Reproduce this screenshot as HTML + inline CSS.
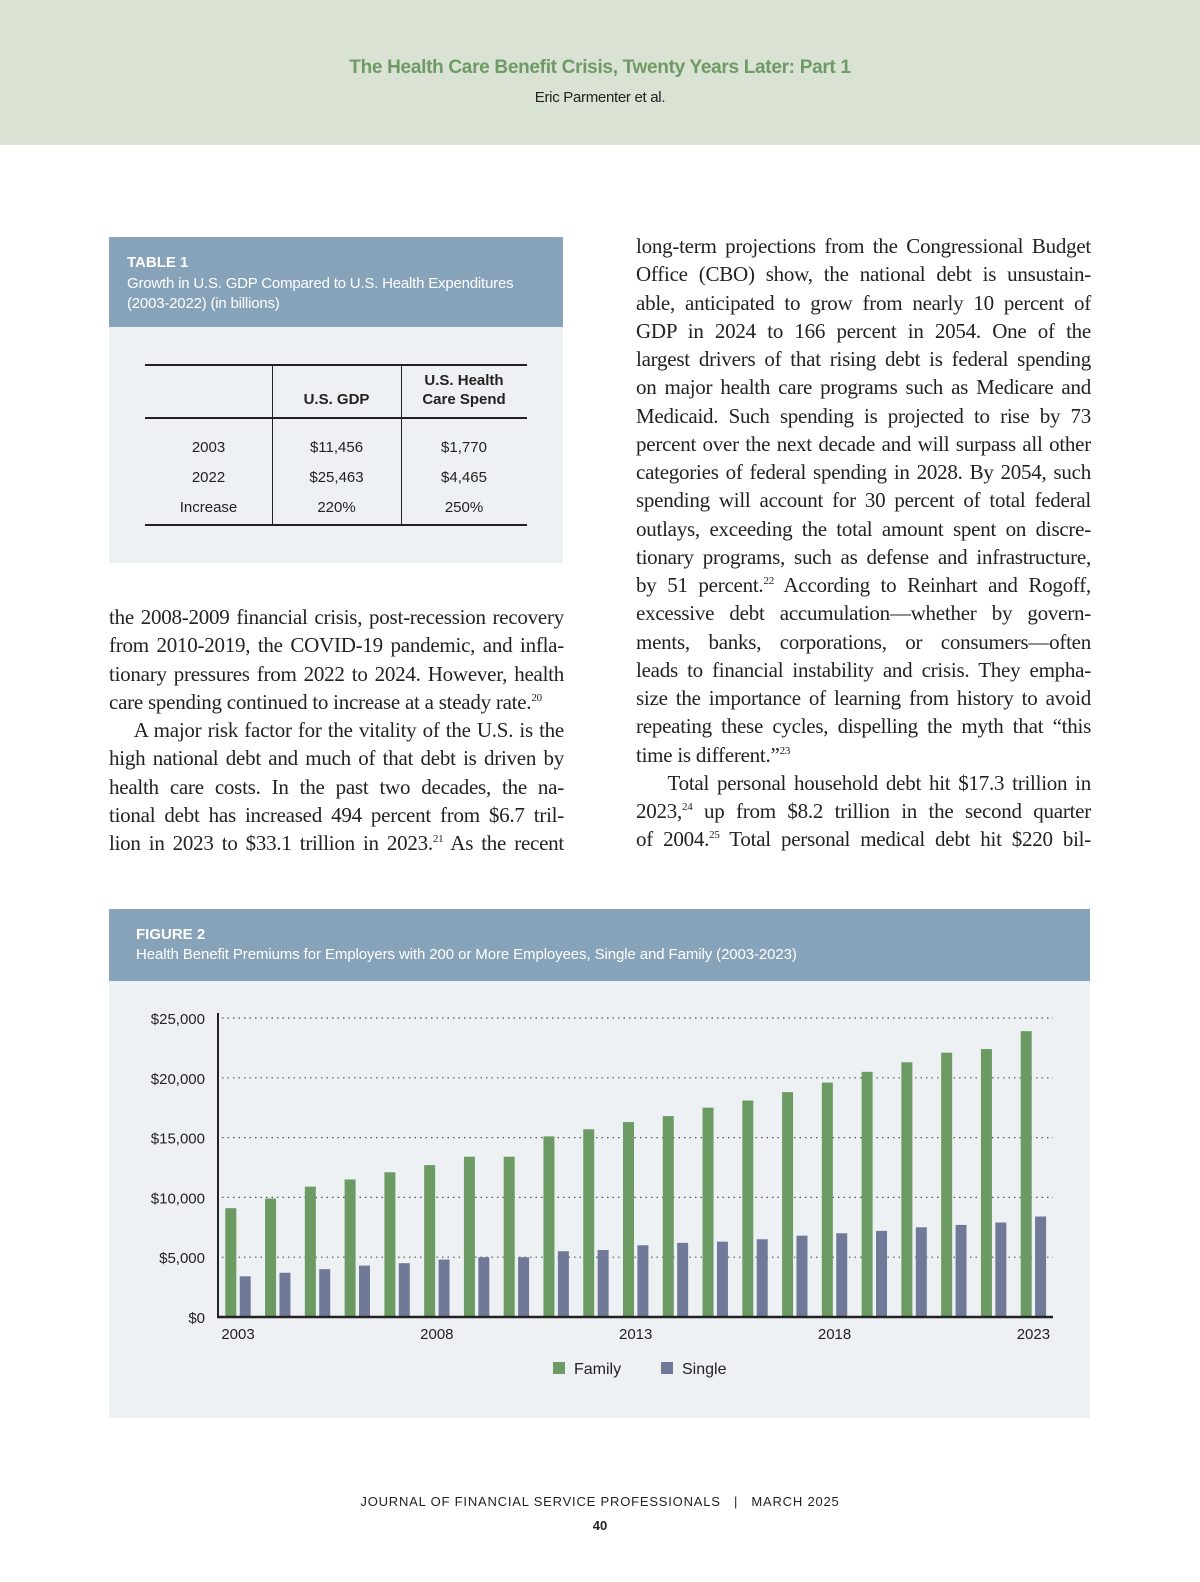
<!DOCTYPE html>
<html><head><meta charset="utf-8">
<style>
*{margin:0;padding:0;box-sizing:border-box}
body{width:1200px;height:1582px;position:relative;background:#fff;font-family:"Liberation Sans",sans-serif;overflow:hidden}
.hdr{position:absolute;left:0;top:0;width:1200px;height:145px;background:#dae2d3}
.title{position:absolute;top:57px;width:100%;text-align:center;color:#6e9a66;font-weight:bold;font-size:19px;letter-spacing:-0.3px}
.auth{position:absolute;top:89px;width:100%;text-align:center;color:#222;font-size:15px;letter-spacing:-0.3px}
.col{position:absolute;font-family:"Liberation Serif",serif;font-size:21px;color:#222;width:455px}
.col div{height:28.26px;line-height:28.26px;white-space:nowrap;text-align:justify;text-align-last:justify;letter-spacing:-0.25px}
.col div.e{text-align-last:left}
sup{font-size:11px;vertical-align:8px;line-height:0}
.box{position:absolute;background:#eef1f4}
.bh{position:absolute;left:0;top:0;width:100%;background:#86a3b9;color:#fff}
.t{position:absolute;font-size:15px;color:#222;text-align:center}
</style></head><body>
<div class="hdr">
<div class="title">The Health Care Benefit Crisis, Twenty Years Later: Part 1</div>
<div class="auth">Eric Parmenter et al.</div>
</div>

<div class="box" style="left:109px;top:237px;width:454px;height:326px">
<div class="bh" style="height:90px">
<div style="position:absolute;left:18px;top:17px;font-weight:bold;font-size:15px">TABLE 1</div>
<div style="position:absolute;left:18px;top:37px;font-size:15px;line-height:20px;letter-spacing:-0.2px">Growth in U.S. GDP Compared to U.S. Health Expenditures<br>(2003-2022) (in billions)</div>
</div>
<div style="position:absolute;left:36px;top:127px;width:382px;border-top:2px solid #222"></div>
<div style="position:absolute;left:36px;top:180px;width:382px;border-top:2px solid #222"></div>
<div style="position:absolute;left:36px;top:287px;width:382px;border-top:2px solid #222"></div>
<div style="position:absolute;left:163px;top:127px;height:162px;border-left:1.5px solid #222"></div>
<div style="position:absolute;left:292px;top:127px;height:162px;border-left:1.5px solid #222"></div>
<div class="t" style="left:163px;width:129px;top:154px;font-weight:bold">U.S. GDP</div>
<div class="t" style="left:292px;width:126px;top:134px;font-weight:bold;line-height:19px">U.S. Health<br>Care Spend</div>
<div class="t" style="left:36px;width:127px;top:196px;line-height:30px">2003<br>2022<br>Increase</div>
<div class="t" style="left:163px;width:129px;top:196px;line-height:30px">$11,456<br>$25,463<br>220%</div>
<div class="t" style="left:292px;width:126px;top:196px;line-height:30px">$1,770<br>$4,465<br>250%</div>
</div>

<div class="col" style="left:109px;top:603px">
<div>the 2008-2009 financial crisis, post-recession recovery</div>
<div>from 2010-2019, the COVID-19 pandemic, and infla-</div>
<div>tionary pressures from 2022 to 2024. However, health</div>
<div class="e">care spending continued to increase at a steady rate.<sup>20</sup></div>
<div>&nbsp;&nbsp;&nbsp;&nbsp;A major risk factor for the vitality of the U.S. is the</div>
<div>high national debt and much of that debt is driven by</div>
<div>health care costs. In the past two decades, the na-</div>
<div>tional debt has increased 494 percent from $6.7 tril-</div>
<div>lion in 2023 to $33.1 trillion in 2023.<sup>21</sup> As the recent</div>
</div>

<div class="col" style="left:636px;top:232px">
<div>long-term projections from the Congressional Budget</div>
<div>Office (CBO) show, the national debt is unsustain-</div>
<div>able, anticipated to grow from nearly 10 percent of</div>
<div>GDP in 2024 to 166 percent in 2054. One of the</div>
<div>largest drivers of that rising debt is federal spending</div>
<div>on major health care programs such as Medicare and</div>
<div>Medicaid. Such spending is projected to rise by 73</div>
<div>percent over the next decade and will surpass all other</div>
<div>categories of federal spending in 2028. By 2054, such</div>
<div>spending will account for 30 percent of total federal</div>
<div>outlays, exceeding the total amount spent on discre-</div>
<div>tionary programs, such as defense and infrastructure,</div>
<div>by 51 percent.<sup>22</sup> According to Reinhart and Rogoff,</div>
<div>excessive debt accumulation—whether by govern-</div>
<div>ments, banks, corporations, or consumers—often</div>
<div>leads to financial instability and crisis. They empha-</div>
<div>size the importance of learning from history to avoid</div>
<div>repeating these cycles, dispelling the myth that “this</div>
<div class="e">time is different.”<sup>23</sup></div>
<div>&nbsp;&nbsp;&nbsp;&nbsp;Total personal household debt hit $17.3 trillion in</div>
<div>2023,<sup>24</sup> up from $8.2 trillion in the second quarter</div>
<div>of 2004.<sup>25</sup> Total personal medical debt hit $220 bil-</div>
</div>

<div class="box" style="left:109px;top:909px;width:981px;height:509px">
<div class="bh" style="height:72px">
<div style="position:absolute;left:27px;top:17px;font-weight:bold;font-size:15px">FIGURE 2</div>
<div style="position:absolute;left:27px;top:37px;font-size:15px;letter-spacing:-0.1px">Health Benefit Premiums for Employers with 200 or More Employees, Single and Family (2003-2023)</div>
</div>
</div>

<svg id="chart" style="position:absolute;left:0;top:0" width="1200" height="1582"></svg>

<div style="position:absolute;top:1494px;width:100%;text-align:center;font-size:13px;letter-spacing:0.8px;color:#222">JOURNAL OF FINANCIAL SERVICE PROFESSIONALS &nbsp;&nbsp;|&nbsp;&nbsp; MARCH 2025</div>
<div style="position:absolute;top:1518px;width:100%;text-align:center;font-size:13px;font-weight:bold;color:#222">40</div>

<script>
const years = [2003,2004,2005,2006,2007,2008,2009,2010,2011,2012,2013,2014,2015,2016,2017,2018,2019,2020,2021,2022,2023];
const family = [9100,9900,10900,11500,12100,12700,13400,13400,15100,15700,16300,16800,17500,18100,18800,19600,20500,21300,22100,22400,23900];
const single = [3400,3700,4000,4300,4500,4800,5000,5000,5500,5600,6000,6200,6300,6500,6800,7000,7200,7500,7700,7900,8400];
const yTicks = [0,5000,10000,15000,20000,25000];
const yTickLabels = ["$0","$5,000","$10,000","$15,000","$20,000","$25,000"];
const xTickYears = [2003,2008,2013,2018,2023];

const NS="http://www.w3.org/2000/svg";
const svg=document.getElementById('chart');
const X0=218, X1=1053, Y0=1317, Y1=1018, YMAX=25000;
const STEP=39.77, FIRST=225.3, BW=11;
const y=v=>Y0-(v/YMAX)*(Y0-Y1);
const xg=i=>FIRST+i*STEP;
function mk(tag,attrs){const e=document.createElementNS(NS,tag);for(const k in attrs)e.setAttribute(k,attrs[k]);svg.appendChild(e);return e;}

yTicks.forEach((t,i)=>{
  if(t>0){const g=mk('line',{x1:X0+4,x2:X1,y1:y(t),y2:y(t),stroke:'#555','stroke-width':1.2,'stroke-dasharray':'1.5 4'});
  
  }
  const l=mk('text',{x:205,y:y(t)+6,'text-anchor':'end','font-size':15,fill:'#222','font-family':'Liberation Sans, sans-serif'});
  l.textContent=yTickLabels[i];
  
  
});
years.forEach((yr,i)=>{
  const f=mk('rect',{x:xg(i),y:y(family[i]),width:BW,height:Y0-y(family[i]),fill:'#6b9b63'});
  
  
  const s=mk('rect',{x:xg(i)+BW+3.4,y:y(single[i]),width:BW,height:Y0-y(single[i]),fill:'#707a98'});
  
  
  if(xTickYears.includes(yr)){
    const t=mk('text',{x:xg(i)+BW+1.7,y:Y0+22,'text-anchor':'middle','font-size':15,fill:'#222','font-family':'Liberation Sans, sans-serif'});
    t.textContent=yr;
    
    
  }
});
const ax=mk('line',{x1:X0,x2:X0,y1:Y1-5,y2:Y0+1,stroke:'#222','stroke-width':2});


const bx=mk('line',{x1:X0-1,x2:X1,y1:Y0,y2:Y0,stroke:'#222','stroke-width':2.5});


const legend=[["Family","#6b9b63",553],["Single","#707a98",661]];
legend.forEach(([n,c,lx])=>{
  const r=mk('rect',{x:lx,y:1362,width:12,height:12,fill:c});
  
  
  const t=mk('text',{x:lx+21,y:1374,'font-size':16,fill:'#222','font-family':'Liberation Sans, sans-serif'});
  t.textContent=n;
  
  
});
</script>
</body></html>
